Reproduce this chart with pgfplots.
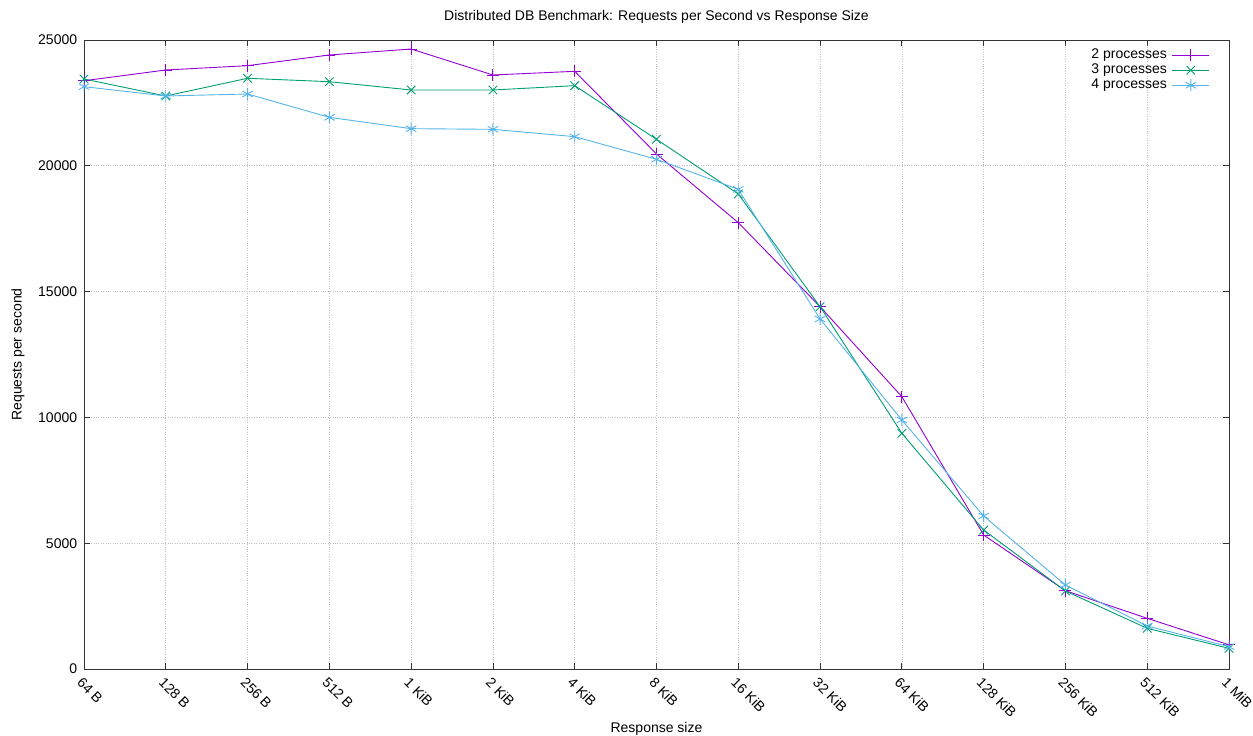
\documentclass[border=0pt]{standalone}
\usepackage{fontspec}
\setmainfont{Liberation Sans}
\usepackage{pgfplots}
\pgfplotsset{compat=1.18}
\definecolor{c2}{HTML}{9400D3}
\definecolor{c3}{HTML}{009E73}
\definecolor{c4}{HTML}{56B4E9}
\begin{document}
\fontsize{14bp}{16bp}\selectfont
\begin{tikzpicture}
\begin{axis}[
  name=ax,
  scale only axis,
  width=1145bp, height=629bp,
  xmin=0, xmax=14, ymin=0, ymax=25000,
  xtick={0,1,2,3,4,5,6,7,8,9,10,11,12,13,14},
  xticklabels={64 B,128 B,256 B,512 B,1 KiB,2 KiB,4 KiB,8 KiB,16 KiB,32 KiB,64 KiB,128 KiB,256 KiB,512 KiB,1 MiB},
  ytick={0,5000,10000,15000,20000,25000},
  /pgf/number format/assume math mode=true,
  /pgf/number format/1000 sep={},
  scaled y ticks=false,
  tick align=inside,
  major tick length=6bp,
  xtick pos=both, ytick pos=both,
  ticklabel pos=lower,
  axis line style={line width=0.9bp, black!80},
  tick style={line width=0.8bp, black!80},
  grid=major,
  grid style={dotted, line width=0.6bp, gray!50},
  xticklabel style={rotate=-45, anchor=north west, font=\fontsize{14bp}{16bp}\selectfont, xshift=0bp, yshift=-1bp},
  yticklabel style={font=\fontsize{14bp}{16bp}\selectfont, xshift=-2bp},
  every axis title shift/.style={yshift=0pt},
  title={Distributed DB Benchmark: Requests per Second vs Response Size},
  title style={at={(axis description cs:0.5,1.027)}, anchor=center, font=\fontsize{14bp}{16bp}\selectfont},
  xlabel={Response size},
  xlabel style={at={(axis description cs:0.5,-0.0954)}, anchor=center, font=\fontsize{14bp}{16bp}\selectfont},
  ylabel={Requests per second},
  ylabel style={at={(axis description cs:-0.0576,0.5)}, anchor=center, rotate=0, font=\fontsize{14bp}{16bp}\selectfont},
  legend style={draw=none, fill=none, inner sep=0pt, at={(axis description cs:0.9834,0.988)}, anchor=north east, font=\fontsize{14bp}{16bp}\selectfont, row sep=0bp, column sep=4bp,
    nodes={text height=10bp, text depth=3bp, inner sep=1bp}},
  legend cell align=right,
  legend plot pos=right,
  legend image code/.code={\draw[mark repeat=2,mark phase=2] plot coordinates {(0bp,0bp)(18.5bp,0bp)(37bp,0bp)};},
  every axis plot/.append style={line width=0.9bp, mark size=6bp, mark options={solid, line width=0.9bp}},
]
\addplot[c2, mark=+] coordinates {
(0,23380) (1,23808) (2,23980) (3,24404) (4,24642) (5,23609) (6,23755) (7,20470)
(8,17740) (9,14400) (10,10824) (11,5326) (12,3112) (13,2014) (14,960)};
\addlegendentry{2 processes}
\addplot[c3, mark=x] coordinates {
(0,23450) (1,22774) (2,23478) (3,23343) (4,23013) (5,23013) (6,23185) (7,21052)
(8,18880) (9,14400) (10,9367) (11,5525) (12,3100) (13,1617) (14,822)};
\addlegendentry{3 processes}
\addplot[c4, mark=asterisk] coordinates {
(0,23145) (1,22774) (2,22854) (3,21926) (4,21476) (5,21449) (6,21158) (7,20257)
(8,19065) (9,13911) (10,9897) (11,6081) (12,3339) (13,1709) (14,888)};
\addlegendentry{4 processes}
\end{axis}
\pgfresetboundingbox
\path (ax.south west) ++(-84bp,-67bp) rectangle ([shift={(24bp,40bp)}]ax.north east);
\end{tikzpicture}
\end{document}
